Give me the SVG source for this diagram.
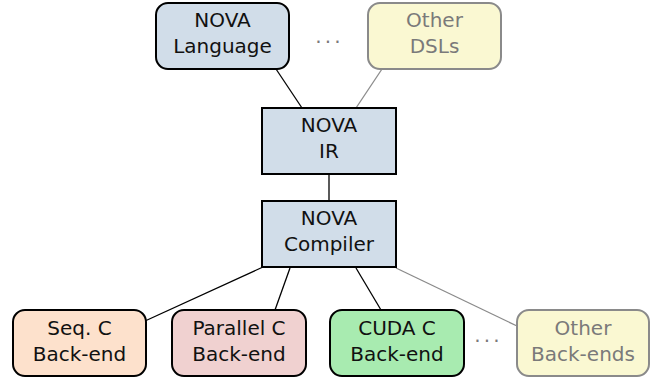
<svg xmlns="http://www.w3.org/2000/svg" width="656" height="378" viewBox="0 0 656 378">
  <style>
    text { font-family: "DejaVu Sans", sans-serif; font-size: 20px; text-anchor: middle; fill: #111; }
    .box { stroke: #000; stroke-width: 2; }
    .faint { stroke: #8a8a8a; stroke-width: 2; }
    .faint-text { fill: #7a7a7a; }
    .dots { fill: #7a7a7a; letter-spacing: 3.2px; }
    .edge { stroke: #000; stroke-width: 1.3; fill: none; }
    .edge-faint { stroke: #8a8a8a; stroke-width: 1.3; fill: none; }
    .blue { fill: #d1dde9; }
    .yellow { fill: #faf8d2; }
  </style>

  <g id="connectors">
    <line class="edge" x1="276" y1="69" x2="302" y2="108"/>
    <line class="edge-faint" x1="382" y1="69" x2="356" y2="108"/>
    <line class="edge" x1="329" y1="174" x2="329" y2="201"/>
    <line class="edge" x1="263" y1="267" x2="145" y2="321"/>
    <line class="edge" x1="290" y1="268" x2="275" y2="310"/>
    <line class="edge" x1="356" y1="268" x2="381" y2="310"/>
    <line class="edge-faint" x1="396" y1="268" x2="517" y2="326"/>
  </g>

  <g id="nova-language">
    <rect class="box blue" x="156" y="3" width="133" height="66" rx="12"/>
    <text x="222.5" y="27">NOVA</text>
    <text x="222.5" y="53">Language</text>
  </g>

  <text id="dots-top" class="dots" x="329.6" y="42.5">...</text>

  <g id="other-dsls">
    <rect class="faint yellow" x="368" y="3" width="133" height="66" rx="12"/>
    <text class="faint-text" x="434.5" y="27">Other</text>
    <text class="faint-text" x="434.5" y="53">DSLs</text>
  </g>

  <g id="nova-ir">
    <rect class="box blue" x="262" y="108" width="134" height="66"/>
    <text x="329" y="132">NOVA</text>
    <text x="329" y="158">IR</text>
  </g>

  <g id="nova-compiler">
    <rect class="box blue" x="262" y="201" width="134" height="66"/>
    <text x="329" y="225">NOVA</text>
    <text x="329" y="251">Compiler</text>
  </g>

  <g id="seq-c">
    <rect class="box" fill="#fde1cc" x="13" y="310" width="133" height="66" rx="12"/>
    <text x="79.5" y="335">Seq. C</text>
    <text x="79.5" y="361">Back-end</text>
  </g>

  <g id="parallel-c">
    <rect class="box" fill="#f0d1d0" x="172" y="310" width="134" height="66" rx="12"/>
    <text x="239" y="335">Parallel C</text>
    <text x="239" y="361">Back-end</text>
  </g>

  <g id="cuda-c">
    <rect class="box" fill="#a8ebb0" x="330" y="310" width="134" height="66" rx="12"/>
    <text x="397" y="335">CUDA C</text>
    <text x="397" y="361">Back-end</text>
  </g>

  <text id="dots-bottom" class="dots" x="488.6" y="341.5">...</text>

  <g id="other-backends">
    <rect class="faint yellow" x="517" y="310" width="132" height="66" rx="12"/>
    <text class="faint-text" x="583" y="335">Other</text>
    <text class="faint-text" x="583" y="361">Back-ends</text>
  </g>
</svg>
